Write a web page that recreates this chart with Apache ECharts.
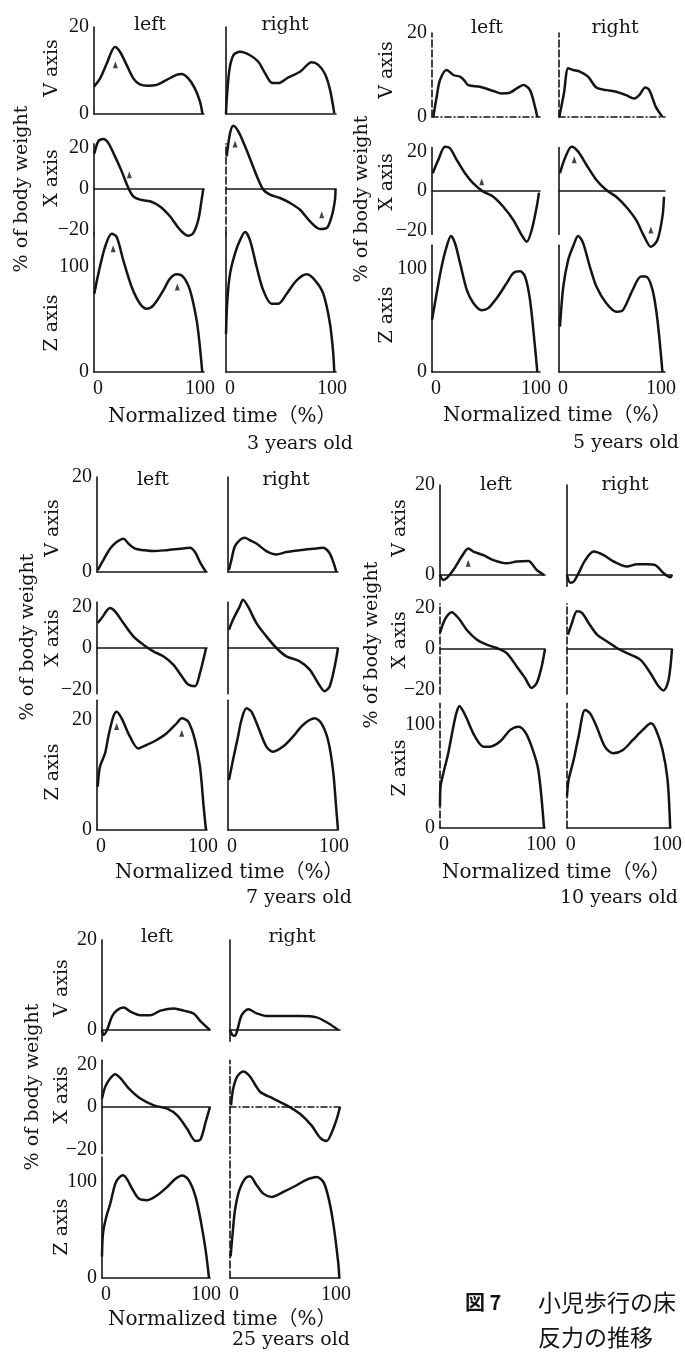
<!DOCTYPE html>
<html>
<head>
<meta charset="utf-8">
<script src="https://cdn.jsdelivr.net/npm/echarts@6/dist/echarts.min.js"></script>
<style>
html,body{margin:0;padding:0;background:#fff}
#main{width:685px;height:1363px}
</style>
</head>
<body>
<div id="main"></div>
<script>
// ---- data : [normalized time %, % of body weight] ----
var timeTicks = [0, 100];
var vTicks = [0, 20];
var xTicks = [-20, 0, 20];
var zTicks = [0, 100];

// 3 years
var v3L = [[-4,6.3],[2,8.2],[8.5,11.6],[16.6,15.4],[21.5,14.3],[28,11.3],[34.6,8.2],[41,6.8],[49,6.5],[57.5,6.7],[67,7.8],[77,9],[82,9.2],[88.6,8.2],[95,5.9],[100,2.9],[102.5,0]];
var v3R = [[-4,0],[-3.3,3.3],[-0.7,10.1],[3.2,13.5],[9.7,14.3],[19.6,13.5],[27.7,12],[34.3,9.4],[40.8,7.2],[47.4,7.1],[57.2,8.4],[68.7,9.7],[80.1,11.9],[86.6,11.3],[93.2,9.2],[98.1,5.6],[102.3,0.2]];
var x3L = [[-3.7,17.2],[0.3,23.3],[5.2,24.4],[10.1,22.4],[16.6,15.9],[23.2,8.6],[29.7,0.5],[34.6,-3.6],[41.2,-5.2],[51,-6],[60.8,-8.5],[70.6,-13.3],[80.4,-19.8],[88.5,-22.8],[93.5,-21.5],[98.4,-15],[101.7,-5.2],[103.3,0]];
var x3R = [[-3.3,15.9],[0,27.3],[3.2,30.9],[8.1,28.1],[14.7,20.8],[21.2,12.7],[27.7,4.6],[32.6,-0.3],[39.2,-2.8],[49,-4.4],[58.8,-6.8],[68.7,-10.1],[78.5,-15.8],[88.3,-19.5],[94.9,-19],[99.8,-13.3],[103,-5.2],[103.5,0]];
var z3L = [[-3.7,74.6],[0.3,93.7],[6.8,119],[13.4,131.7],[18.3,128.6],[24.8,106.3],[33,81],[41.2,65],[47.7,60.3],[54.3,63.5],[64.1,77.8],[70.6,88.9],[77.2,93],[83.7,90.5],[90.3,77.8],[96.8,49.2],[100,23.8],[102.3,0]];
var z3R = [[-4,36.5],[-2.7,68.3],[0,93.7],[4.8,112.7],[9.7,125.4],[14.7,133.3],[19.6,125.4],[26.1,100],[32.6,77.8],[40.8,65],[47.4,65],[55.6,74.6],[65.4,87.3],[75.2,93],[83.4,87.3],[91.5,74.6],[98.1,46],[101.3,17.5],[102.3,0]];

// 5 years
var v5L = [[-2.7,0],[0.7,4.8],[4,8.8],[10.7,11.2],[17.3,10],[24,9.6],[28,8.8],[32.3,7.6],[44,7.2],[57.3,6.2],[65.7,5.6],[74,5.8],[80.7,6.8],[87.3,7.6],[94,6.4],[99,2.4],[101.3,0]];
var v5R = [[-3.7,0],[1,5.6],[5.4,11.6],[10.4,11.2],[17.2,10.8],[25.6,9.6],[34.1,7],[44.2,6.4],[54.3,6],[64.4,5.2],[72.8,4.4],[77.8,5.2],[83.9,7],[88,6.4],[94.7,2.4],[101.4,0]];
var x5L = [[-3.3,9],[2.3,15.8],[9,22.5],[14,21.7],[20.7,15.8],[29,9],[37.3,3.9],[47.3,-0.3],[57.3,-2.9],[67.3,-8],[77.3,-14.7],[85.7,-22.4],[90.7,-25.8],[95.7,-19.8],[100.7,-8],[103,-0.8]];
var x5R = [[-3,9],[2,16.6],[8.8,22.5],[15.5,20],[24,13.2],[34.1,5.6],[44.2,0.5],[54.3,-2.9],[64.4,-8],[74.5,-14.7],[82.9,-23.2],[89.6,-28.3],[96.3,-24.9],[101.4,-13],[103,-2.9]];
var z5L = [[-4,50.5],[0.7,76.5],[5.7,102.6],[10.7,122],[15,132],[19,125],[24,106],[30.7,80],[37.3,67],[45.7,60],[52.3,62],[60.7,71.7],[70.7,86.3],[77.3,96],[84,97.7],[89,92.8],[94,70],[99,24.4],[101.3,0]];
var z5R = [[-3,44],[0.4,83],[5.4,109],[10.4,122],[15.5,132],[20.5,125.4],[27.3,102.6],[34.1,83],[44.2,66.8],[54.3,58.6],[61,60],[71.1,79.8],[79.5,92.8],[84.5,92.8],[91.3,79.8],[96.3,50.5],[101.4,0]];

// 7 years
var v7L = [[-3.3,0.4],[2.2,2.5],[8.8,4.9],[15.3,6.3],[21.9,7],[26.8,6],[33.3,4.9],[41.5,4.6],[51.3,4.4],[64.4,4.6],[77.5,4.9],[87.3,5.1],[92.2,4.2],[97.1,2.1],[103,0]];
var v7R = [[-3.1,0.4],[-0.7,2.5],[2.6,5.3],[7.5,6.7],[12.4,7.2],[17.3,6.7],[23.9,6],[33.7,4.4],[43.5,3.7],[53.3,4.2],[66.4,4.6],[79.5,4.9],[89.3,5.1],[95.9,3.9],[102.4,0]];
var x7L = [[-3.3,12],[0.6,14.4],[8.8,19.2],[13.7,17.6],[21.9,12],[31.7,5.6],[41.5,1.6],[51.3,-1.6],[61.1,-4],[70.9,-8],[79.2,-13.6],[85.6,-17.6],[92.2,-18.4],[97.1,-12],[102,-2.4],[103,0]];
var x7R = [[-3.1,8.8],[0.9,13.6],[7.5,20],[10.7,23.2],[15.6,20],[23.9,12],[33.7,5.6],[43.5,0],[53.3,-4],[66.4,-6.4],[76.2,-10.4],[84.4,-16.8],[90.9,-20.8],[95.9,-18.4],[100.8,-8.8],[104,0]];
var z7L = [[-3.3,39.4],[-1.1,57.6],[3.9,69.7],[7.1,84.8],[12,103],[15.3,107.6],[20.2,101.5],[28.4,84.8],[36.5,74.2],[44.7,77.3],[54.5,81.8],[64.4,87.9],[74.2,97],[79.2,101.5],[85.6,98.5],[92.2,81.8],[97.1,57.6],[101,18.2],[103,0]];
var z7R = [[-3.1,45.5],[0.9,63.6],[5.8,84.8],[9.2,100],[14.1,110.6],[19,107.6],[25.5,93.9],[33.7,75.8],[40.2,71.2],[50,75.8],[59.8,84.8],[69.6,95.5],[81.1,101.5],[87.7,97],[94.2,81.8],[99.1,54.5],[102.4,18.2],[104,0]];

// 10 years
var v10L = [[-4,0],[-0.6,-1.1],[2.9,-0.7],[9.7,1.1],[18.3,4.1],[25.1,5.9],[30.3,5.2],[40.6,4.4],[50.9,3.3],[64.6,2.6],[74.9,3],[86.9,3.1],[95.5,1.1],[103,0]];
var v10R = [[-4,0],[-0.6,-1.7],[2.8,-1.5],[7.9,0.4],[14.8,3.3],[23.4,5.2],[33.7,4.4],[43.9,3],[57.7,1.9],[68,2.4],[78.3,2.4],[86.8,2.2],[95.4,0.4],[102.3,-0.5],[104,0]];
var x10L = [[-4,7.8],[-0.6,12.7],[2.9,15.9],[8,17.9],[14.9,15.1],[23.4,9.4],[33.7,4.6],[44,2.1],[54.3,0.5],[64.6,-2],[74.9,-8.5],[83.4,-14.1],[90.3,-19],[95.5,-16.6],[100.6,-8.5],[104,0]];
var x10R = [[-3,7],[1.1,12.7],[6.3,18.4],[11.4,17.6],[18.2,12.7],[26.9,7],[37.2,3.7],[47.4,0.5],[57.7,-2],[71.4,-5.2],[81.7,-11.7],[90.2,-18.2],[95.4,-20.2],[100.5,-15],[104,0]];
var z10L = [[-4,21],[-3.5,40],[-0.6,53],[4.5,72.6],[9.7,98.4],[13,112],[16,118.5],[19.5,114],[23.4,106.5],[32,88.7],[40.6,79],[47.4,79],[57.7,83.9],[68,95],[76.6,98.4],[83.4,93.5],[90.3,79],[97.1,56.5],[103,0]];
var z10R = [[-4,30.6],[-2.3,46.8],[2.9,66],[8,88.7],[14.8,114.5],[20,111.3],[26.8,98.4],[35.4,79],[43.9,72.6],[54.2,75.8],[64.5,85.5],[74.8,95.2],[83.4,101.6],[88.6,95.2],[95.4,75.8],[100.6,46.8],[103.3,0]];

// 25 years
var v25L = [[-4,0],[-2.4,-1.1],[1,0],[6,3],[11,4.4],[17.7,5],[24.4,4.1],[34.4,3.3],[44.4,3.3],[54.5,4.3],[67.8,4.8],[77.8,4.3],[87.9,3.6],[94.6,1.9],[104,0]];
var v25R = [[-4,0],[-1.7,-1.1],[0.9,-1.3],[3.2,0],[7.5,3.3],[14,4.6],[22.2,3.7],[32,3.1],[48.4,3.1],[64.7,3.1],[81.1,2.8],[92.5,1.5],[102.3,0]];
var x25L = [[-4,4],[-0.7,9.6],[4.3,13.6],[9.3,15.5],[14.4,13.6],[22.7,8.8],[34.4,4],[47.8,0.8],[61.2,-0.8],[71.2,-4],[81.3,-10.4],[89.6,-16],[94.6,-15.2],[99.6,-7.2],[104,0]];
var x25R = [[-3,0.8],[-0.8,8.8],[3.2,14.4],[9.1,16.8],[15.6,14.4],[25.5,7.2],[38.5,4],[51.7,0.8],[64.7,-3.2],[76.2,-8.8],[84.4,-14.4],[90.9,-16],[95.9,-12],[100.8,-5.6],[104,0]];
var z25L = [[-4,22.4],[-3,46.6],[0.3,63.8],[4.3,77.6],[9.3,98.3],[13,104.5],[17,107],[21,103],[26.1,93.1],[32.7,82.8],[41.1,81],[51.2,86.2],[61.2,94.8],[69.5,103.4],[76.2,106.9],[82.9,101.7],[89.6,84.5],[94.6,60.3],[99.6,29.3],[103,0]];
var z25R = [[-3.4,22.4],[-1.7,43.1],[0.9,70.7],[5.1,91.4],[10.7,103.4],[15.6,105.9],[22.2,96.6],[28.7,87.9],[36.9,84.5],[48.4,89.7],[61.5,96.6],[71.3,102.4],[81.1,105.2],[87.7,100],[92.5,84.5],[97.4,56.9],[102.3,15.5],[103.3,0]];

// small arrow marks printed on some traces
var m3LV = [[17,11.3]];
var m3LX = [[30.7,7]];
var m3RX = [[4.9,22],[90,-12.5]];
var m3LZ = [[14.8,117.5],[77.8,81]];
var m5LX = [[45.7,4.7]];
var m5RX = [[11.5,15.8],[89.6,-19.8]];
var m7LZ = [[15.3,94],[79.2,88]];
var m10LV = [[25,2.6]];

var ageLabels = ['3 years old', '5 years old', '7 years old', '10 years old', '25 years old'];
var zTickText = [['0','100'], ['0','100'], ['0','20'], ['0','100'], ['0','100']];

// ---- layout (pixels) ----
// L/R: [left, width]; V: [y of 20, y of 0, min]; X: [y of 0, px per unit]; Z: [y of 0, px per unit, max]
var panels = [
  {key:'3',  L:[94,110],  R:[226,110], V:[27,114,0],     X:[189,2.05],  Z:[372,1.05,132],
   tl:[150,25], tr:[285,25], pct:[22,189], va:[52,68], xa:[52,178], za:[52,323], norm:[108,417], age:[353,444]},
  {key:'5',  L:[432,108], R:[559,106], V:[33,117,0],     X:[191,1.97],  Z:[372,1.03,123],
   tl:[487,28], tr:[615,28], pct:[362,199], va:[387,70], xa:[387,182], za:[387,315], norm:[443,416], age:[679,443]},
  {key:'7',  L:[97,110],  R:[228,110], V:[477,572,0],    X:[648,2.08],  Z:[830,1.1,118],
   tl:[153,480], tr:[286,480], pct:[28,637], va:[53,528], xa:[53,638], za:[53,772], norm:[115,873], age:[352,898]},
  {key:'10', L:[440,105], R:[567,105], V:[485,575,-2.5], X:[649,2.05],  Z:[828,1.03,121],
   tl:[496,485], tr:[625,485], pct:[372,645], va:[400,528], xa:[400,640], za:[400,768], norm:[442,873], age:[678,898]},
  {key:'25', L:[102,108], R:[230,110], V:[940,1030,-2.5],X:[1107,2.12], Z:[1278,0.96,126],
   tl:[157,937], tr:[292,937], pct:[33,1087], va:[62,988], xa:[62,1095], za:[62,1227], norm:[108,1320], age:[350,1340]}
];

var curves = {
  '3':  {VL:v3L, VR:v3R, XL:x3L, XR:x3R, ZL:z3L, ZR:z3R},
  '5':  {VL:v5L, VR:v5R, XL:x5L, XR:x5R, ZL:z5L, ZR:z5R},
  '7':  {VL:v7L, VR:v7R, XL:x7L, XR:x7R, ZL:z7L, ZR:z7R},
  '10': {VL:v10L, VR:v10R, XL:x10L, XR:x10R, ZL:z10L, ZR:z10R},
  '25': {VL:v25L, VR:v25R, XL:x25L, XR:x25R, ZL:z25L, ZR:z25R}
};
var marks = {'3LV':m3LV, '3LX':m3LX, '3RX':m3RX, '3LZ':m3LZ, '5LX':m5LX, '5RX':m5RX, '7LZ':m7LZ, '10LV':m10LV};

// axes drawn broken/dashed in the print
var dashY = ['3RX','5LV','5RV','10LX','10RX','10LZ','10RZ','25RX','25RZ'];
var dashX = ['5LV','5RV','25RX'];

var INK = '#141414';
var SERIF = '"DejaVu Serif", "Noto Sans CJK JP", serif';
var NUM = '"Liberation Serif", "DejaVu Serif", serif';

var grids = [], xAxes = [], yAxes = [], series = [], graphics = [];

function minus(v){ return v < 0 ? '\u2212' + Math.abs(v) : String(v); }

panels.forEach(function(p, pi){
  ['L','R'].forEach(function(side){
    var col = p[side];
    ['V','X','Z'].forEach(function(row){
      var top, height, ymin, ymax, ticks, fmt = minus;
      if (row === 'V') {
        var s = (p.V[1] - p.V[0]) / 20;
        top = p.V[0]; ymin = p.V[2]; ymax = 20;
        height = (p.V[1] - p.V[0]) - ymin * s;
        ticks = vTicks;
      } else if (row === 'X') {
        top = p.X[0] - 22 * p.X[1]; height = 44 * p.X[1];
        ymin = -22; ymax = 22; ticks = xTicks;
      } else {
        top = p.Z[0] - p.Z[2] * p.Z[1]; height = p.Z[2] * p.Z[1];
        ymin = 0; ymax = p.Z[2]; ticks = zTicks;
        var tt = zTickText[pi];
        fmt = function(v){ return v === 0 ? tt[0] : tt[1]; };
      }
      var id = p.key + side + row;
      var gi = grids.length;
      grids.push({left: col[0], width: col[1], top: top, height: height, containLabel: false});
      xAxes.push({
        type: 'value', gridIndex: gi, min: -4, max: 104,
        axisLine: {onZero: true, lineStyle: {color: INK, width: 1.6, type: dashX.indexOf(id) >= 0 ? [6,3,1,3] : 'solid'}},
        axisTick: {show: false}, splitLine: {show: false},
        axisLabel: {show: row === 'Z', customValues: timeTicks, margin: 7, color: INK,
                    fontFamily: NUM, fontSize: 20}
      });
      yAxes.push({
        type: 'value', gridIndex: gi, min: ymin, max: ymax,
        axisLine: {onZero: false, lineStyle: {color: INK, width: 1.6, type: dashY.indexOf(id) >= 0 ? [7,3] : 'solid'}},
        axisTick: {show: false}, splitLine: {show: false},
        axisLabel: {show: side === 'L', customValues: ticks, formatter: fmt, margin: 5, color: INK,
                    fontFamily: NUM, fontSize: 20}
      });
      series.push({
        type: 'line', xAxisIndex: gi, yAxisIndex: gi,
        data: curves[p.key][row + side],
        showSymbol: false, smooth: 0.3, clip: false, silent: true,
        lineStyle: {color: INK, width: 2.5}
      });
      var mk = marks[p.key + side + row];
      if (mk) {
        series.push({
          type: 'scatter', xAxisIndex: gi, yAxisIndex: gi, data: mk,
          symbol: 'triangle', symbolSize: [5, 7], silent: true,
          itemStyle: {color: INK}
        });
      }
    });
  });

  function txt(pos, text, opt){
    var o = {type: 'text', x: pos[0], y: pos[1], silent: true,
      style: {text: text, fill: INK, fontFamily: SERIF, fontSize: 19,
              textAlign: 'center', textVerticalAlign: 'middle'}};
    if (opt) {
      if (opt.rot) o.rotation = Math.PI / 2;
      if (opt.align) o.style.textAlign = opt.align;
      if (opt.size) o.style.fontSize = opt.size;
    }
    graphics.push(o);
  }
  txt(p.tl, 'left');
  txt(p.tr, 'right');
  txt(p.pct, '% of body weight', {rot: true});
  txt(p.va, 'V axis', {rot: true});
  txt(p.xa, 'X axis', {rot: true});
  txt(p.za, 'Z axis', {rot: true});
  txt(p.norm, 'Normalized time\uFF08%\uFF09', {align: 'left', size: 20});
  txt(p.age, ageLabels[pi], {align: 'right'});
});

// caption
graphics.push({type: 'text', x: 465, y: 1302, silent: true,
  style: {text: '図 7', fill: INK, fontFamily: '"Noto Sans CJK JP"', fontWeight: 'bold', fontSize: 20,
          textAlign: 'left', textVerticalAlign: 'middle'}});
graphics.push({type: 'text', x: 538, y: 1302, silent: true,
  style: {text: '小児歩行の床', fill: INK, fontFamily: '"Noto Sans CJK JP"', fontSize: 23,
          textAlign: 'left', textVerticalAlign: 'middle'}});
graphics.push({type: 'text', x: 538, y: 1337, silent: true,
  style: {text: '反力の推移', fill: INK, fontFamily: '"Noto Sans CJK JP"', fontSize: 23,
          textAlign: 'left', textVerticalAlign: 'middle'}});

var myChart = echarts.init(document.getElementById('main'));
myChart.setOption({
  backgroundColor: '#fff',
  animation: false,
  grid: grids,
  xAxis: xAxes,
  yAxis: yAxes,
  series: series,
  graphic: graphics
});
</script>
</body>
</html>
